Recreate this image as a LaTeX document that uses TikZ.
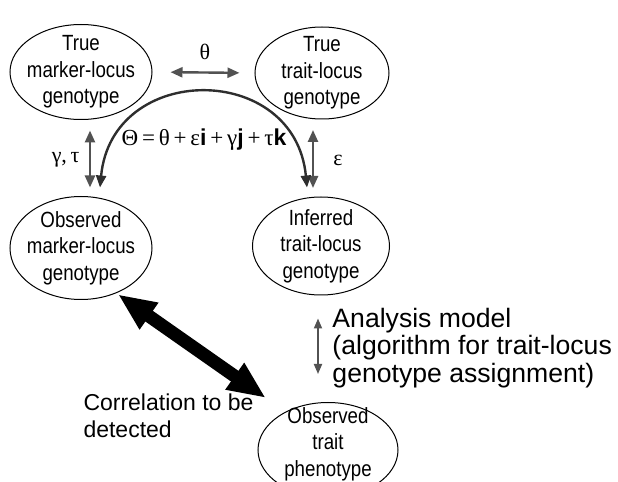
\documentclass[tikz,border=0pt]{standalone}
\usepackage{fontspec}
\setmainfont{Liberation Sans}
\newfontfamily\grk{Liberation Serif}
\newfontfamily\narrowsans[FakeStretch=0.85]{Liberation Sans}
\usetikzlibrary{arrows.meta,shapes.geometric,calc}
\tikzset{every picture/.style={line width=0.5pt}}
\tikzset{
  blob/.style={draw,ellipse,inner sep=0pt},
  intext/.style={align=center,font=\narrowsans\fontsize{11}{13.3}\selectfont},
  outtext/.style={align=left,font=\fontsize{13.3}{13.6}\selectfont},
  grktext/.style={font=\grk\fontsize{11}{13}\selectfont},
  garrow/.style={draw=black!68,line width=1.2pt,
    {Triangle[length=6pt,width=5pt]}-{Triangle[length=6pt,width=5pt]}},
}

\begin{document}
\begin{tikzpicture}[x=0.5pt,y=-0.5pt]
    \useasboundingbox (0,0) rectangle (618,482);

    % True genotypes
    \node[blob,minimum width=71pt,minimum height=47.5pt] (tm) at (81,72) {};
    \node[intext] (tmtext) at (tm) {True\\marker-locus\\genotype};
    \node[blob,minimum width=67pt,minimum height=46pt] (tt) at (322,73) {};
    \node[intext] (tttext) at (tt) {True\\trait-locus\\genotype};

    % Observed / inferred genotypes
    \node[blob,minimum width=71pt,minimum height=51.5pt] (om) at (81,248) {};
    \node[intext] (omtext) at (om) {Observed\\marker-locus\\genotype};
    \node[blob,minimum width=68.5pt,minimum height=49pt] (it) at (321,246) {};
    \node[intext] (ittext) at (it) {Inferred\\trait-locus\\genotype};

    % Phenotype
    \node[blob,minimum width=70pt,minimum height=47.5pt] (op) at (328,450) {};
    \node[intext] (optext) at ([yshift=3pt]op.center) {Observed\\trait\\phenotype};

    % theta between the true loci
    \draw[garrow,shorten <=9pt,shorten >=7.5pt] (tm.east) -- (tt.west);
    \node[grktext] (theta) at (205,52) {θ};

    % errors
    \draw[garrow,shorten <=5.25pt,shorten >=4.25pt]
        ([xshift=4.5pt]tm.south) -- ([xshift=4.5pt]tm.south |- om.north);
    \node[grktext,anchor=east,inner sep=0pt] (gt) at (80,160) {γ,\,τ};
    \draw[garrow,shorten <=5.25pt,shorten >=4.25pt]
        ([xshift=-4.5pt]tt.south) -- ([xshift=-4.5pt]tt.south |- it.north);
    \node[grktext,anchor=west,inner sep=0pt] (eps) at (333,160) {ε};

    % combined recombination fraction
    \draw[draw=black!82,line width=1.2pt,
        {Triangle[length=6pt,width=5pt]}-{Triangle[length=6pt,width=5pt]}]
        ([xshift=9.5pt,yshift=4.25pt]om.north) .. controls +(12,-126) and +(-12,-126)
        .. ([xshift=-7pt,yshift=4.5pt]it.north);
    \node[font=\fontsize{11.5}{13}\selectfont] (form) at (204,140)
        {{\grk Θ\,=\,θ\,+\,ε}\textbf{i}{\grk\,+\,γ}\textbf{j}{\grk\,+\,τ}\textbf{k}};

    % analysis model
    \draw[garrow,line width=0.9pt,shorten <=11.5pt,shorten >=14pt,
        {Triangle[length=5pt,width=4pt]}-{Triangle[length=5pt,width=4pt]}]
        ([xshift=-1.5pt]it.south) -- ([xshift=-1.5pt]it.south |- op.north);
    \node[outtext,anchor=west,inner sep=0pt] (an) at (332,348)
        {Analysis model\\(algorithm for trait-locus\\genotype assignment)};

    % correlation
    \draw[line width=6.5pt,shorten <=1pt,shorten >=12pt,
        {Triangle[length=19pt,width=15pt]}-{Triangle[length=19pt,width=15pt]}]
        (om.-52) -- (op.138);
    \node[outtext,anchor=west,inner sep=0pt,font=\fontsize{11.5}{13.5}\selectfont] (corr) at (83,416)
        {Correlation to be\\detected};
\end{tikzpicture}
\end{document}
